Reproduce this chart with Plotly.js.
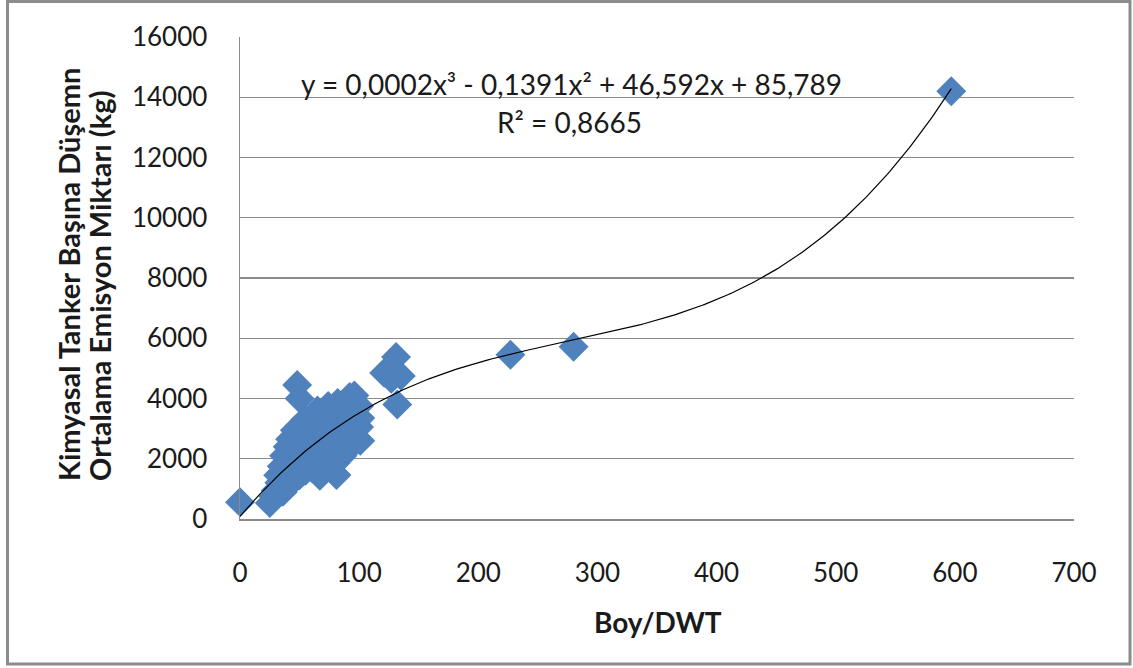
<!DOCTYPE html>
<html>
<head>
<meta charset="utf-8">
<script src="https://cdn.plot.ly/plotly-3.0.1.min.js"></script>
<style>
  html, body { margin: 0; padding: 0; background: #fff; }
  #chart { width: 1133px; height: 668px; }
</style>
</head>
<body>
<div id="chart"></div>
<script>
// ---- data ----
const boyDwt = [0, 25, 28, 30, 36, 33, 40, 45, 32, 38, 50, 55, 67, 81, 60, 72,
  35, 42, 48, 58, 65, 75, 80, 37, 44, 52, 60, 68, 76, 86,
  40, 48, 56, 64, 72, 80, 90, 42, 50, 58, 66, 74, 82, 90, 101,
  46, 53, 60, 68, 76, 84, 92, 100, 55, 62, 70, 78, 86, 94, 101,
  65, 72, 80, 88, 96, 50, 74, 82, 93, 100, 92, 96, 48,
  121, 131, 135, 127, 132, 227, 280, 597];
const emisyon = [560, 530, 750, 950, 900, 1200, 1100, 1300, 1450, 1500, 1450, 1600, 1430, 1460, 1700, 1650,
  1750, 1800, 1900, 2000, 2000, 1900, 1850, 2100, 2100, 2150, 2250, 2200, 2150, 2100,
  2400, 2450, 2400, 2500, 2450, 2400, 2300, 2650, 2700, 2650, 2750, 2700, 2650, 2700, 2600,
  2950, 2950, 3000, 2950, 3050, 2950, 3000, 3050, 3300, 3250, 3300, 3250, 3350, 3300, 3350,
  3600, 3650, 3600, 3550, 3650, 4000, 3750, 3850, 3800, 3750, 4050, 4100, 4450,
  4850, 5380, 4750, 4650, 3800, 5450, 5720, 14200];

// polynomial trendline coefficients (constant, x, x^2, x^3) as in the chart label
const trendCoef = [85.789, 46.592, -0.1391, 0.000169];
const equationText = "y = 0,0002x³ - 0,1391x² + 46,592x + 85,789";
const r2Text = "R² = 0,8665";
const xTitle = "Boy/DWT";
const yTitleLines = ["Kimyasal Tanker Başına Düşemn", "Ortalama Emisyon Miktarı (kg)"];

// trendline drawn over the data range
const xMin = Math.min(...boyDwt), xMax = Math.max(...boyDwt);
const trendX = [], trendY = [];
for (let i = 0; i <= 300; i++) {
  const x = xMin + (xMax - xMin) * i / 300;
  trendX.push(x);
  trendY.push(trendCoef[0] + trendCoef[1] * x + trendCoef[2] * x * x + trendCoef[3] * x * x * x);
}

const W = 1133, H = 668;
const L = 240, R = 1074, T = 37, B = 519;
const px = v => (v - L) / (R - L);
const py = v => (B - v) / (B - T);

const FONT = "Lato, 'Open Sans', sans-serif";
const TXT = "#1a1a1a";

const data = [
  {
    x: boyDwt, y: emisyon, type: "scatter", mode: "markers", cliponaxis: false,
    marker: { symbol: "diamond", size: 23, color: "#4F81BD", line: { width: 0 } },
    hoverinfo: "x+y"
  },
  {
    x: trendX, y: trendY, type: "scatter", mode: "lines", cliponaxis: false,
    line: { color: "#000000", width: 1.2 }, hoverinfo: "skip"
  }
];

const layout = {
  width: W, height: H,
  margin: { l: L, r: W - R, t: T, b: H - B, pad: 0 },
  paper_bgcolor: "#ffffff", plot_bgcolor: "#ffffff",
  showlegend: false,
  font: { family: FONT, size: 26, color: TXT },
  xaxis: {
    range: [0, 700], dtick: 100, tick0: 0, tickformat: "d",
    showgrid: false, zeroline: false,
    showline: true, linecolor: "#8a8a8a", linewidth: 1.5,
    ticks: "outside", ticklen: 30, tickcolor: "rgba(0,0,0,0)",
    tickfont: { family: FONT, size: 26, color: TXT },
    fixedrange: true
  },
  yaxis: {
    range: [0, 16000], dtick: 2000, tick0: 0, tickformat: "d",
    showgrid: true, gridcolor: "#8a8a8a", gridwidth: 1.2,
    zeroline: false,
    showline: true, linecolor: "#8a8a8a", linewidth: 1.5,
    ticks: "outside", ticklen: 26, tickcolor: "rgba(0,0,0,0)",
    tickfont: { family: FONT, size: 26, color: TXT },
    fixedrange: true
  },
  annotations: [
    { xref: "paper", yref: "paper", x: px(571), y: py(84), text: equationText,
      showarrow: false, xanchor: "center", yanchor: "middle",
      font: { family: FONT, size: 28, color: TXT } },
    { xref: "paper", yref: "paper", x: px(569), y: py(122), text: r2Text,
      showarrow: false, xanchor: "center", yanchor: "middle",
      font: { family: FONT, size: 28, color: TXT } },
    { xref: "paper", yref: "paper", x: px(658), y: py(622), text: "<b>" + xTitle + "</b>",
      showarrow: false, xanchor: "center", yanchor: "middle",
      font: { family: FONT, size: 28, color: TXT } },
    { xref: "paper", yref: "paper", x: px(68), y: py(275),
      text: "<b>" + yTitleLines[0] + "</b>", textangle: -90,
      showarrow: false, xanchor: "center", yanchor: "middle",
      font: { family: FONT, size: 29, color: TXT } },
    { xref: "paper", yref: "paper", x: px(99), y: py(286),
      text: "<b>" + yTitleLines[1] + "</b>", textangle: -90,
      showarrow: false, xanchor: "center", yanchor: "middle",
      font: { family: FONT, size: 29, color: TXT } }
  ],
  shapes: [
    { type: "rect", xref: "paper", yref: "paper", layer: "above",
      x0: px(7.5), x1: px(1130), y0: py(1.5), y1: py(664),
      line: { color: "#8c8c8c", width: 3 }, fillcolor: "rgba(0,0,0,0)" }
  ]
};

Plotly.newPlot("chart", data, layout, { displayModeBar: false, staticPlot: true });
</script>
</body>
</html>
